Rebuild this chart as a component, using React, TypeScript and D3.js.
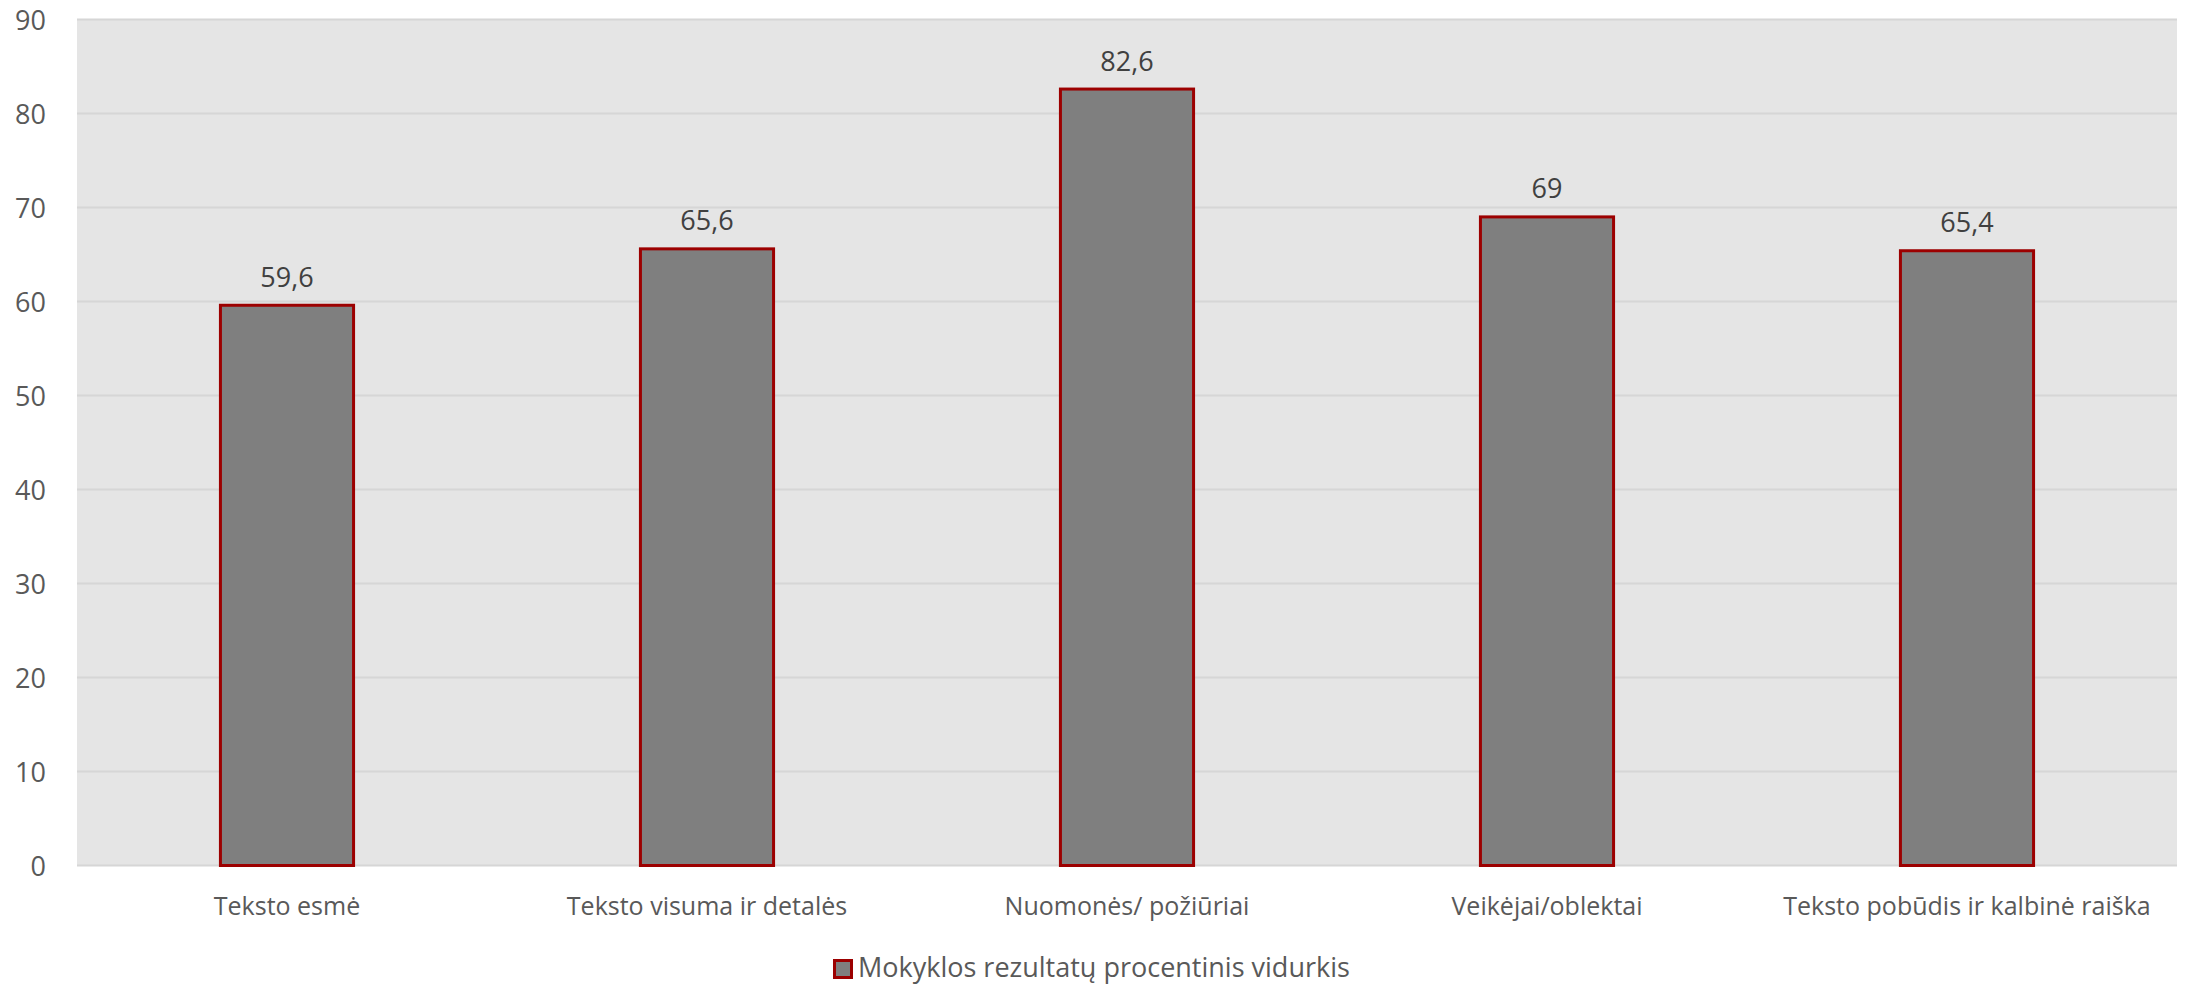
import React from "react";
import * as d3 from "d3";

const categories = [
  "Teksto esmė",
  "Teksto visuma ir detalės",
  "Nuomonės/ požiūriai",
  "Veikėjai/oblektai",
  "Teksto pobūdis ir kalbinė raiška",
];
const values = [59.6, 65.6, 82.6, 69, 65.4];
const valueLabels = ["59,6", "65,6", "82,6", "69", "65,4"];
const yTicks = [0, 10, 20, 30, 40, 50, 60, 70, 80, 90];
const seriesName = "Mokyklos rezultatų procentinis vidurkis";

export default function App() {
  const W = 2188;
  const H = 986;
  const left = 77;
  const right = 2177;
  const top = 19.5;
  const bottom = 865.5;
  const font = "'Open Sans', sans-serif";

  const x = d3.scaleBand<string>().domain(categories).range([left, right]).paddingInner(0.683).paddingOuter(0.3415);
  const y = d3.scaleLinear().domain([0, 90]).range([bottom, top]);

  return (
    <svg width={W} height={H} style={{ position: "absolute", left: 0, top: 0, background: "#fff" }}>
      <rect x={0} y={0} width={W} height={H} fill="#ffffff" />
      <rect x={left} y={top} width={right - left} height={bottom - top} fill="#e5e5e5" />
      {yTicks.map((t) => (
        <g key={t}>
          <line x1={left} x2={right} y1={y(t)} y2={y(t)} stroke="#d6d6d6" strokeWidth={2} />
          <text x={46} y={y(t)} textAnchor="end" dominantBaseline="central" fontFamily={font} fontSize={27} fill="#595959">
            {t}
          </text>
        </g>
      ))}
      {categories.map((c, i) => {
        const bx = x(c)!;
        const bw = x.bandwidth();
        return (
          <g key={c}>
            <rect x={bx} y={y(values[i])} width={bw} height={bottom - y(values[i])} fill="#7f7f7f" stroke="#9c0000" strokeWidth={3} />
            <text x={bx + bw / 2} y={y(values[i]) - 29} textAnchor="middle" dominantBaseline="central" fontFamily={font} fontSize={27} fill="#404040">
              {valueLabels[i]}
            </text>
            <text x={bx + bw / 2} y={905} textAnchor="middle" dominantBaseline="central" fontFamily={font} fontSize={25} fill="#595959">
              {c}
            </text>
          </g>
        );
      })}
      <g>
        <rect x={834.5} y={960.5} width={17} height={17} fill="#7f7f7f" stroke="#9c0000" strokeWidth={3} />
        <text x={858} y={966} dominantBaseline="central" fontFamily={font} fontSize={27} fill="#595959">
          {seriesName}
        </text>
      </g>
    </svg>
  );
}
